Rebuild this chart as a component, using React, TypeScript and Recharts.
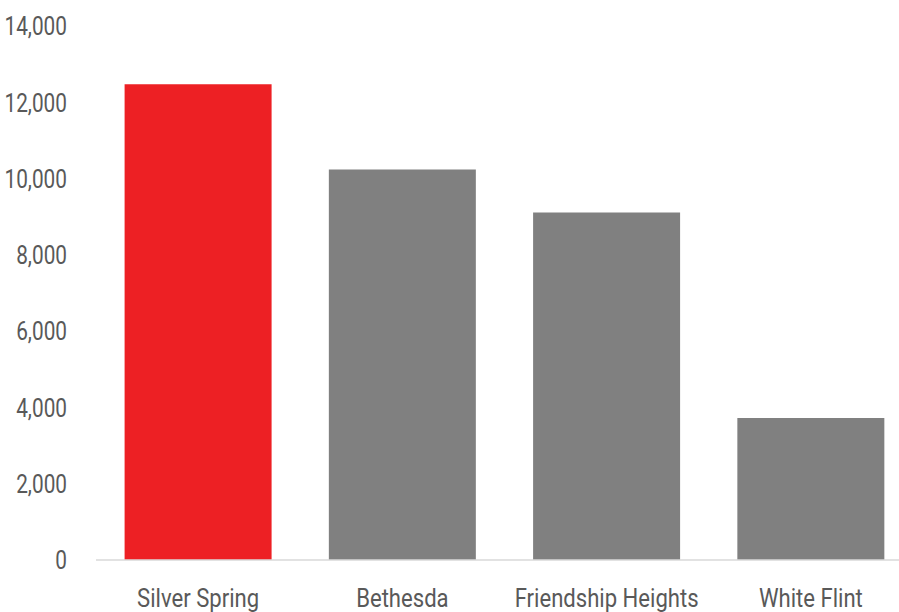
import React from 'react';
import { Bar, BarChart, Cell, XAxis, YAxis } from 'recharts';

// chart values
const areas = ['Silver Spring', 'Bethesda', 'Friendship Heights', 'White Flint'];
const units = [12470, 10240, 9110, 3720];
const yTicks = [0, 2000, 4000, 6000, 8000, 10000, 12000, 14000];

const RED = '#ED2024';
const GRAY = '#808080';
const TEXT = '#595959';
const FONT = 'Roboto, sans-serif';
// no condensed face installed, so squeeze Roboto horizontally
const SQUEEZE_X = 0.85;
const SQUEEZE_Y = 0.8;

const data = areas.map((name, i) => ({ name, value: units[i] }));

const XTick = (props: any) => {
  const { x, y, payload } = props;
  return (
    <g transform={`translate(${x},${y}) scale(${SQUEEZE_X},1)`}>
      <text x={0} y={0} dy="0.71em" textAnchor="middle" fontSize={26} fill={TEXT} fontFamily={FONT}>
        {payload.value}
      </text>
    </g>
  );
};

const YTick = (props: any) => {
  const { x, y, payload } = props;
  return (
    <g transform={`translate(${x},${y}) scale(${SQUEEZE_Y},1)`}>
      <text x={0} y={0} dy="0.355em" textAnchor="end" fontSize={26} fill={TEXT} fontFamily={FONT}>
        {Number(payload.value).toLocaleString('en-US')}
      </text>
    </g>
  );
};

const App: React.FC = () => {
  return (
    <div
      style={{
        position: 'fixed',
        top: 0,
        left: 0,
        width: 899,
        height: 612,
        overflow: 'hidden',
        background: '#fff',
      }}
    >
      <BarChart
        width={913}
        height={612}
        data={data}
        margin={{ top: 26, right: 0, bottom: 0, left: 0 }}
        barCategoryGap="14%"
      >
        <XAxis
          dataKey="name"
          height={52}
          tickLine={false}
          tickSize={0}
          tickMargin={29}
          axisLine={{ stroke: '#D9D9D9', strokeWidth: 1.5 }}
          tick={<XTick />}
          interval={0}
        />
        <YAxis
          width={96}
          domain={[0, 14000]}
          ticks={yTicks}
          axisLine={false}
          tickLine={false}
          tickSize={0}
          tickMargin={29}
          tick={<YTick />}
        />
        <Bar dataKey="value" isAnimationActive={false}>
          {data.map((d, i) => (
            <Cell key={d.name} fill={i === 0 ? RED : GRAY} />
          ))}
        </Bar>
      </BarChart>
    </div>
  );
};

export default App;
